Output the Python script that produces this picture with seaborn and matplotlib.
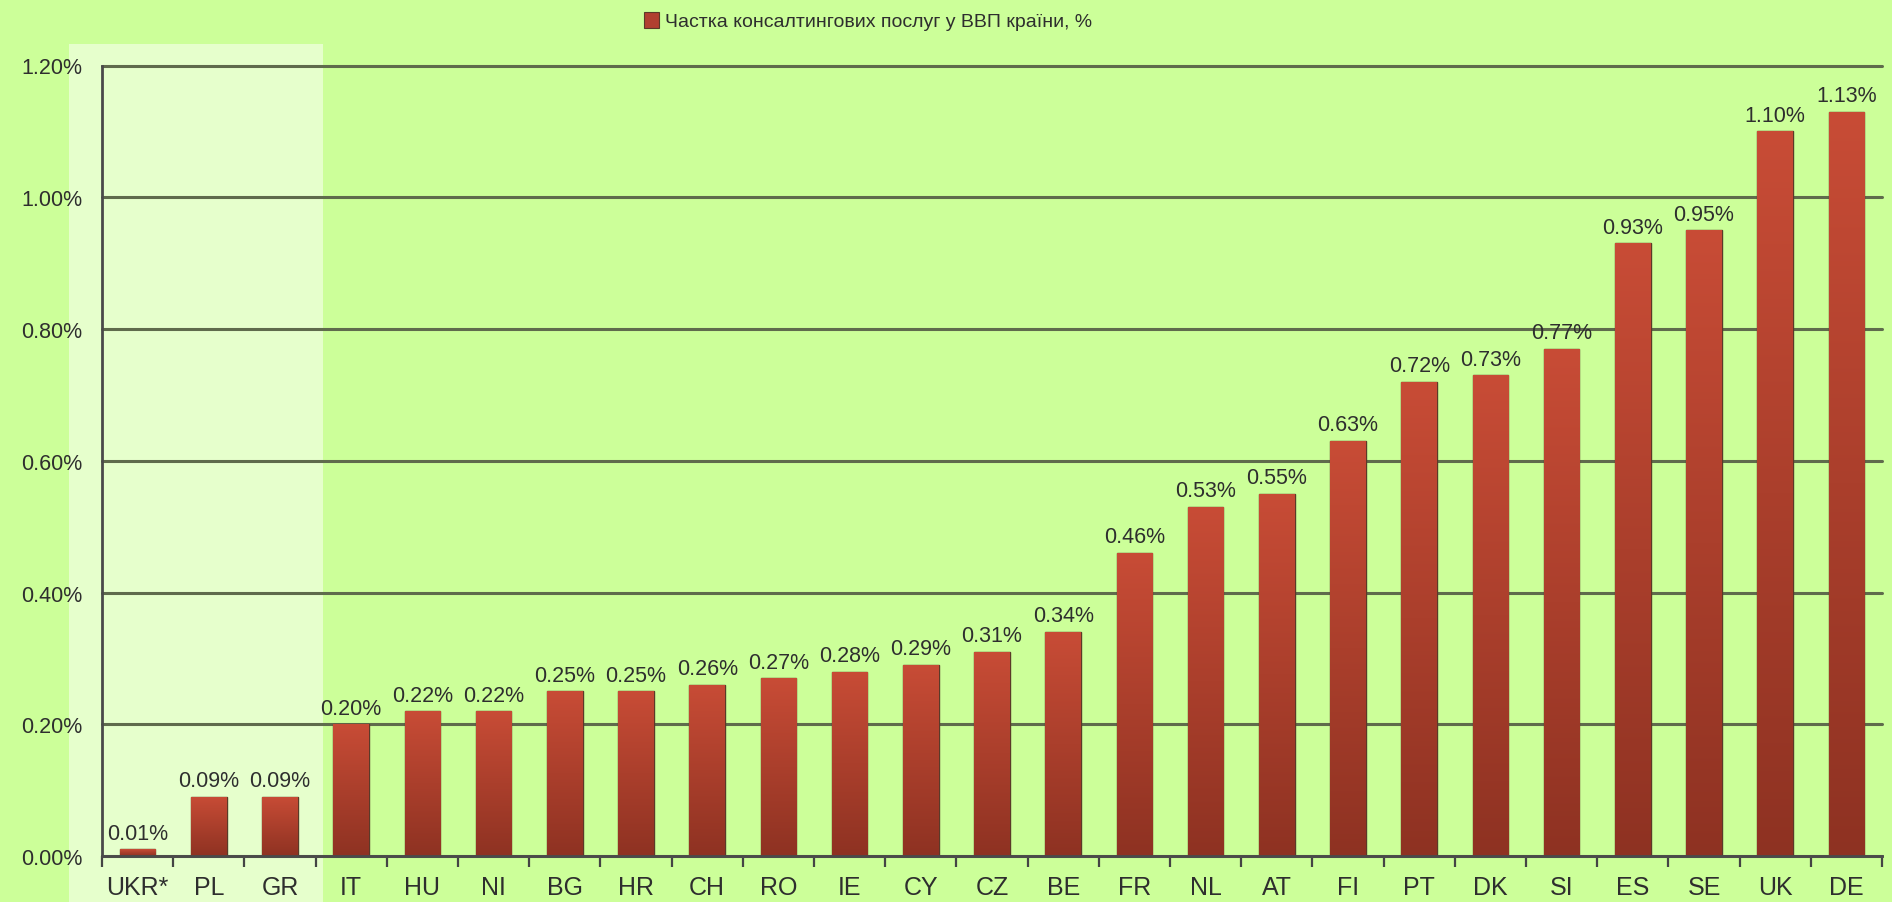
import numpy as np
import pandas as pd
import seaborn as sns
import matplotlib.pyplot as plt
from matplotlib.patches import Rectangle
from matplotlib.ticker import FuncFormatter, FixedLocator

# Data
countries = ["UKR*", "PL", "GR", "IT", "HU", "NI", "BG", "HR", "CH", "RO", "IE", "CY", "CZ",
             "BE", "FR", "NL", "AT", "FI", "PT", "DK", "SI", "ES", "SE", "UK", "DE"]
share = [0.01, 0.09, 0.09, 0.20, 0.22, 0.22, 0.25, 0.25, 0.26, 0.27, 0.28, 0.29, 0.31,
         0.34, 0.46, 0.53, 0.55, 0.63, 0.72, 0.73, 0.77, 0.93, 0.95, 1.10, 1.13]
y_ticks = [0.0, 0.2, 0.4, 0.6, 0.8, 1.0, 1.2]
legend_label = "Частка консалтингових послуг у ВВП країни, %"

df = pd.DataFrame({"country": countries, "share": share})

sns.set_style("white")
plt.rcParams["font.family"] = ["Liberation Sans", "DejaVu Sans"]

bg = "#ccff99"
bar_col = "#a8402f"
grid_col = "#5f6b4c"
txt_col = "#2e2e2e"

fig = plt.figure(figsize=(18.92, 9.03), dpi=100, facecolor=bg)
# whitish panel behind the first three countries
fig.patches.append(Rectangle((69 / 1892, 0), (323 - 69) / 1892, 1 - 45 / 903,
                             transform=fig.transFigure, facecolor="#e6ffcc",
                             edgecolor="none", zorder=-5))

ax = fig.add_axes([102 / 1892, 46 / 903, (1882 - 102) / 1892, (857 - 66.5) / 903])
ax.set_facecolor("none")
ax.set_zorder(2)

sns.barplot(data=df, x="country", y="share", color=bar_col, width=0.5,
            edgecolor="#5a3a28", linewidth=1.0, saturation=1, ax=ax, zorder=3)

# vertical gradient inside each bar
grad = np.linspace(0, 1, 256).reshape(-1, 1)
top_c = np.array([200, 76, 54]) / 255
bot_c = np.array([142, 50, 34]) / 255
img = top_c * (1 - grad[..., None]) + bot_c * grad[..., None]
for p in ax.patches:
    x0, w, h = p.get_x(), p.get_width(), p.get_height()
    im = ax.imshow(img, extent=[x0, x0 + w, 0, h], aspect="auto", zorder=3.5,
                   interpolation="bilinear")
    im.set_clip_path(p)

ax.bar_label(ax.containers[0], labels=[f"{v:.2f}%" for v in share], padding=4,
             fontsize=15.5, color=txt_col, zorder=5)

ax.set_xlim(-0.5, len(countries) - 0.5)
ax.set_ylim(0, 1.2)
ax.set_yticks(y_ticks)
ax.yaxis.set_major_formatter(FuncFormatter(lambda v, _: f"{v:.2f}%"))
ax.grid(axis="y", color=grid_col, linewidth=2.2, zorder=1)
for gl in ax.get_ygridlines():
    gl.set_clip_on(False)
ax.set_axisbelow(True)

ax.xaxis.set_minor_locator(FixedLocator(np.arange(-0.5, len(countries), 1.0)))
ax.tick_params(axis="x", which="both", bottom=True)
ax.tick_params(axis="x", which="major", length=0, labelsize=18, colors=txt_col, pad=14)
ax.tick_params(axis="x", which="minor", length=8, width=1.6, color="#444444", direction="out")
ax.tick_params(axis="y", length=0, labelsize=15.5, colors=txt_col, pad=14)
ax.set_xlabel("")
ax.set_ylabel("")

sns.despine(ax=ax, top=True, right=True)
for s in ["left", "bottom"]:
    ax.spines[s].set_color("#4a4a4a")
    ax.spines[s].set_linewidth(2)
    ax.spines[s].set_zorder(6)

handle = Rectangle((0, 0), 1, 1, facecolor="#b04030", edgecolor="#5a3a28", linewidth=0.8)
fig.legend([handle], [legend_label], loc="center", bbox_to_anchor=(868 / 1892, 1 - 22 / 903),
           frameon=False, fontsize=14, handlelength=0.8, handleheight=0.9,
           handletextpad=0.3, labelcolor=txt_col)

fig.savefig("out.png", dpi=100, facecolor=bg)
